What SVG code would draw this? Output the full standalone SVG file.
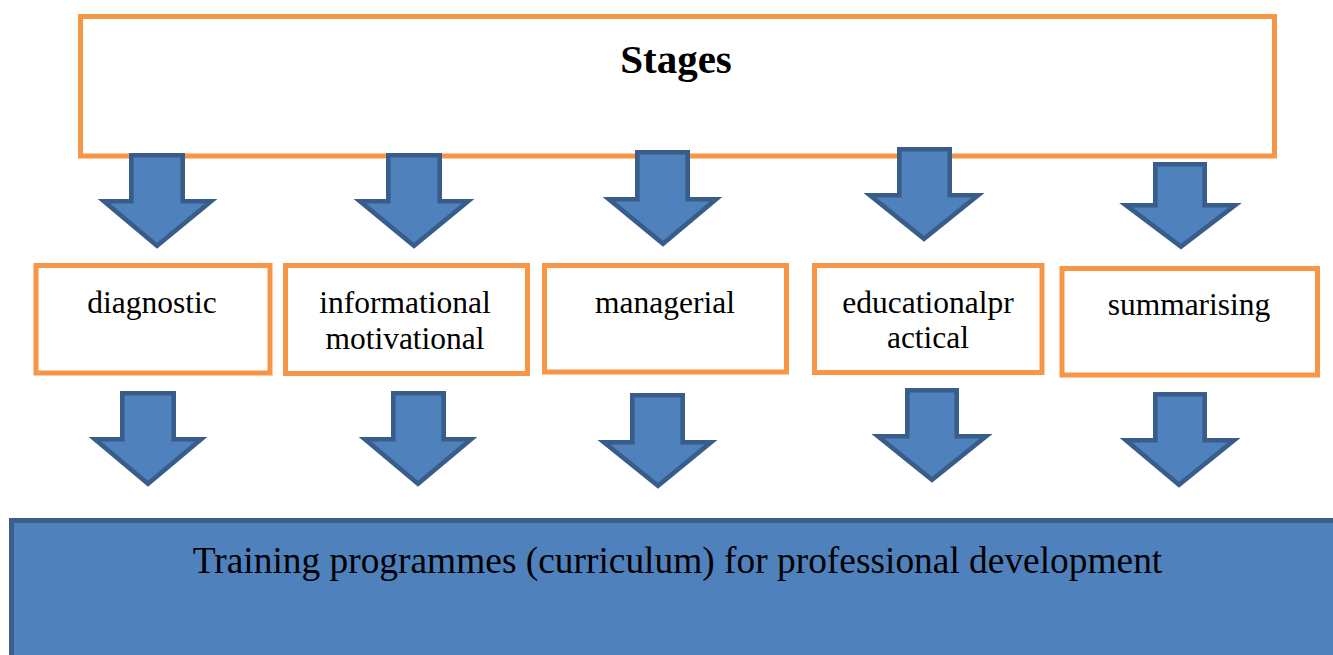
<svg xmlns="http://www.w3.org/2000/svg" width="1333" height="655" viewBox="0 0 1333 655">
<style>
.box{fill:#FFFFFF;stroke:#F79646;stroke-width:5}
.arrow{fill:#4F81BD;stroke:#385D8A;stroke-width:4.6;stroke-linejoin:miter}
.lbl{font-family:"Liberation Serif","Times New Roman",serif;font-size:31.5px;fill:#000;text-anchor:middle}
.title{font-family:"Liberation Serif","Times New Roman",serif;font-size:41px;font-weight:bold;fill:#000;text-anchor:middle}
.big{font-family:"Liberation Serif","Times New Roman",serif;font-size:37.4px;fill:#000;text-anchor:middle}
</style>
<rect width="1333" height="655" fill="#FFFFFF"/>
<g id="stages">
<rect class="box" x="80.5" y="16.5" width="1194" height="139.5"/>
<text class="title" x="676" y="73">Stages</text>
</g>
<g id="connectors">
<path class="arrow" d="M131.3,155.3 H182.7 V201.3 H211 L157,245.7 L104,201.3 H131.3 Z"/>
<path class="arrow" d="M388.3,155.3 H439.7 V201.3 H468 L414,245.7 L360,201.3 H388.3 Z"/>
<path class="arrow" d="M637.3,152.3 H687.7 V199.3 H716 L663,243.7 L609,199.3 H637.3 Z"/>
<path class="arrow" d="M899.3,149.3 H949.7 V195.3 H978 L924,238.7 L870,195.3 H899.3 Z"/>
<path class="arrow" d="M1155.3,164.3 H1204.7 V205.3 H1235 L1181,246.7 L1126,205.3 H1155.3 Z"/>
<path class="arrow" d="M122.3,393.3 H173.7 V439.3 H201 L148,483.7 L95,439.3 H122.3 Z"/>
<path class="arrow" d="M393.3,393.3 H443.7 V439.3 H471 L418,483.7 L365,439.3 H393.3 Z"/>
<path class="arrow" d="M632.3,395.3 H682.7 V442.3 H711 L658,485.7 L604,442.3 H632.3 Z"/>
<path class="arrow" d="M907.3,390.3 H956.7 V436.3 H986 L932,479.7 L878,436.3 H907.3 Z"/>
<path class="arrow" d="M1155.3,394.3 H1204.7 V440.3 H1234 L1179,484.7 L1126,440.3 H1155.3 Z"/>
</g>
<g id="diagnostic">
<rect class="box" x="36" y="265.5" width="234" height="107.5"/>
<text class="lbl" x="152" y="313">diagnostic</text>
</g>
<g id="informational">
<rect class="box" x="285.5" y="265.5" width="242" height="108"/>
<text class="lbl" x="405" y="313">informational</text>
<text class="lbl" x="405" y="349">motivational</text>
</g>
<g id="managerial">
<rect class="box" x="544.5" y="265.5" width="242" height="106.5"/>
<text class="lbl" x="665" y="313">managerial</text>
</g>
<g id="educational">
<rect class="box" x="814.5" y="265.5" width="227.5" height="107"/>
<text class="lbl" x="928" y="313">educationalpr</text>
<text class="lbl" x="928" y="348">actical</text>
</g>
<g id="summarising">
<rect class="box" x="1062" y="268.5" width="255.5" height="106.5"/>
<text class="lbl" x="1189" y="315">summarising</text>
</g>
<g id="training">
<rect x="11.5" y="520.5" width="1340" height="200" fill="#4F81BD" stroke="#3B5E8C" stroke-width="5"/>
<text class="big" x="677.5" y="573">Training programmes (curriculum) for professional development</text>
</g>
</svg>
